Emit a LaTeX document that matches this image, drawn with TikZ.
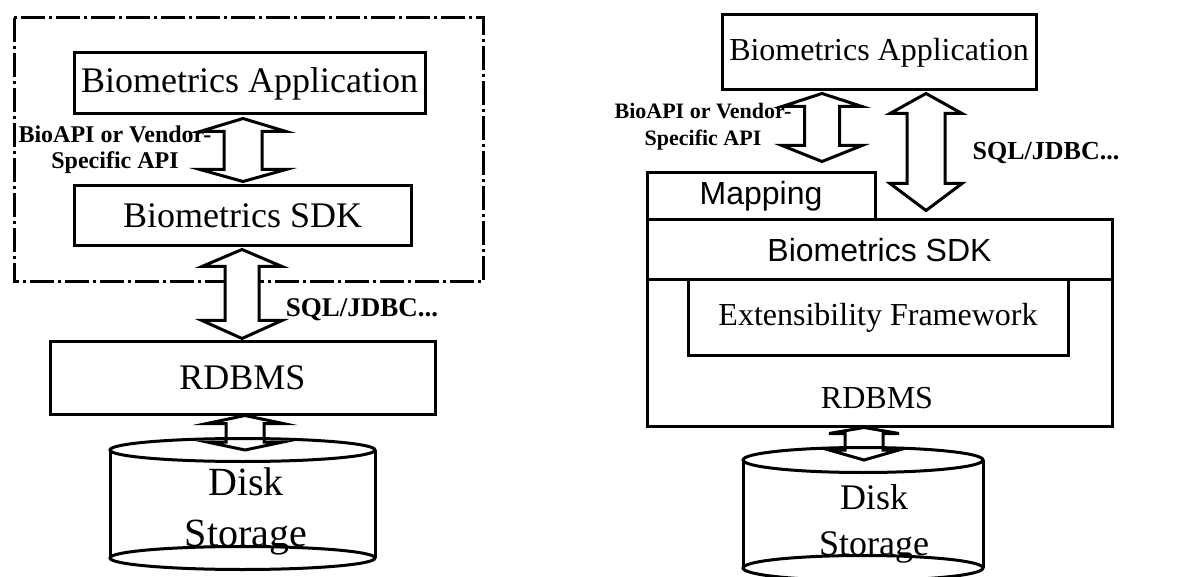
\documentclass[tikz,border=0pt]{standalone}
\usepackage{fontspec}
\setmainfont{Liberation Serif}
\newfontfamily\arialfont{Liberation Sans}
\usetikzlibrary{calc}
\tikzset{
    my-box/.style={
        draw, rectangle, line width=1.5pt, inner sep=0pt
    },
    my-label/.style={
        align=center, inner sep=0pt
    },
    my-fat-arrow/.style={
        draw, fill=white, line width=1.5pt, line join=miter
    },
    my-disk/.style={
        draw, line width=1.5pt
    },
}
% fat double arrow: top tip, bottom tip, shaft half width, head half width,
% top head length, bottom head length
\newcommand{\fatarrow}[6]{%
    \coordinate (FAT) at (#1);
    \coordinate (FAB) at (#2);
    \draw[my-fat-arrow] (FAT) -- ($(FAT)+(#4,#5)$) -- ($(FAT)+(#3,#5)$)
        -- ($(FAB)+(#3,-#6)$) -- ($(FAB)+(#4,-#6)$) -- (FAB)
        -- ($(FAB)+(-#4,-#6)$) -- ($(FAB)+(-#3,-#6)$)
        -- ($(FAT)+(-#3,#5)$) -- ($(FAT)+(-#4,#5)$) -- cycle;
}

\begin{document}
\begin{tikzpicture}[x=0.5pt, y=-0.5pt]

        \useasboundingbox (0,0) rectangle (1178,577);

        % LEFT: BOXES
        \node[my-box, minimum width=175.5pt, minimum height=30.5pt, font=\fontsize{18}{20}\selectfont]
            (APPL)   at (249.5,83.5)  {Biometrics Application};
        \node[my-box, minimum width=168.5pt, minimum height=30pt, font=\fontsize{18}{20}\selectfont]
            (SDKL)   at (242.5,216)   {Biometrics SDK};
        \node[my-box, minimum width=192.5pt, minimum height=36.5pt, font=\fontsize{18}{20}\selectfont]
            (RDBMSL) at (242.5,377.5) {RDBMS};

        % LEFT: FRAME
        \draw[line width=1.5pt, dash pattern=on 12pt off 2pt on 1.5pt off 2pt]
            (14,18) rectangle (483,282);

        % LEFT: LABELS
        \node[my-label, font=\bfseries\fontsize{12}{13}\selectfont]
            (APILBL) at (115,150) {BioAPI or Vendor-\\Specific API};
        \node[my-label, font=\bfseries\fontsize{13.5}{15}\selectfont]
            (SQLLBL) at (362,310) {SQL/JDBC...};

        % LEFT: ARROWS
        \coordinate (COLAPIL) at (243,0);
        \coordinate (COLSQLL) at (242,0);
        \coordinate (COLDSKL) at (245,0);
        \coordinate (CYLTOPL) at (242.5,450);
        \fatarrow{$(APPL.south -| COLAPIL)+(0,3)$}{$(SDKL.north -| COLAPIL)+(0,-3)$}{19}{43}{13}{12}
        \fatarrow{$(SDKL.south -| COLSQLL)+(0,2)$}{$(RDBMSL.north -| COLSQLL)+(0,-1)$}{17}{40}{17}{18}
        \fatarrow{RDBMSL.south -| COLDSKL}{CYLTOPL -| COLDSKL}{19}{38}{8}{8}

        % LEFT: DISK
        \draw[my-disk] (110,450) -- (110,558);
        \draw[my-disk] (375,450) -- (375,558);
        \draw[my-disk] (CYLTOPL) ellipse [x radius=132.5, y radius=11.5];
        \draw[my-disk] (242.5,558) ellipse [x radius=132.5, y radius=11.5];
        \node[my-label, font=\fontsize{20}{25.5}\selectfont]
            (DISKL) at (246,511) {Disk\\Storage};

        % RIGHT: BOXES
        \node[my-box, minimum width=157pt, minimum height=37.5pt, font=\fontsize{16}{18}\selectfont]
            (APPR)   at (879,52.5)    {Biometrics Application};
        \node[my-box, minimum width=232.5pt, minimum height=73pt]
            (RDBMSR) at (879.5,353)   {};
        \node[my-box, minimum width=114pt, minimum height=23.5pt, font=\arialfont\fontsize{16}{18}\selectfont]
            (MAPR)   at (761,196.5)   {Mapping};
        \node[my-box, minimum width=232.5pt, minimum height=30pt, font=\arialfont\fontsize{16}{18}\selectfont]
            (SDKR)   at (879.5,250)   {Biometrics SDK};
        \node[my-box, minimum width=190pt, minimum height=37.5pt, font=\fontsize{16}{18}\selectfont]
            (EXTR)   at (878,317.5)   {Extensibility Framework};
        \node[my-label, font=\fontsize{16}{18}\selectfont]
            (RDBMSRTXT) at (877,398)  {RDBMS};

        % RIGHT: LABELS
        \node[my-label, font=\bfseries\fontsize{11}{13.5}\selectfont]
            (APIRLBL) at (703,126.5) {BioAPI or Vendor-\\Specific API};
        \node[my-label, font=\bfseries\fontsize{13}{15}\selectfont]
            (SQLRLBL) at (1046,153)  {SQL/JDBC...};

        % RIGHT: ARROWS
        \coordinate (COLAPIR) at (822,0);
        \coordinate (COLSQLR) at (926,0);
        \coordinate (COLDSKR) at (864,0);
        \coordinate (CYLTOPR) at (863,460);
        \fatarrow{$(APPR.south -| COLAPIR)+(0,2)$}{$(MAPR.north -| COLAPIR)+(0,-10)$}{17.5}{40}{13}{16}
        \fatarrow{$(APPR.south -| COLSQLR)+(0,2)$}{$(SDKR.north -| COLSQLR)+(0,-8)$}{19}{36}{20}{27}
        \fatarrow{RDBMSR.south -| COLDSKR}{CYLTOPR -| COLDSKR}{19}{35}{6}{10}

        % RIGHT: DISK
        \draw[my-disk] (743,460) -- (743,568);
        \draw[my-disk] (983,460) -- (983,568);
        \draw[my-disk] (CYLTOPR) ellipse [x radius=120, y radius=12.5];
        \draw[my-disk] (863,568) ellipse [x radius=120, y radius=12.5];
        \node[my-label, font=\fontsize{18}{23}\selectfont]
            (DISKR) at (874,524) {Disk\\Storage};

    \end{tikzpicture}
\end{document}
